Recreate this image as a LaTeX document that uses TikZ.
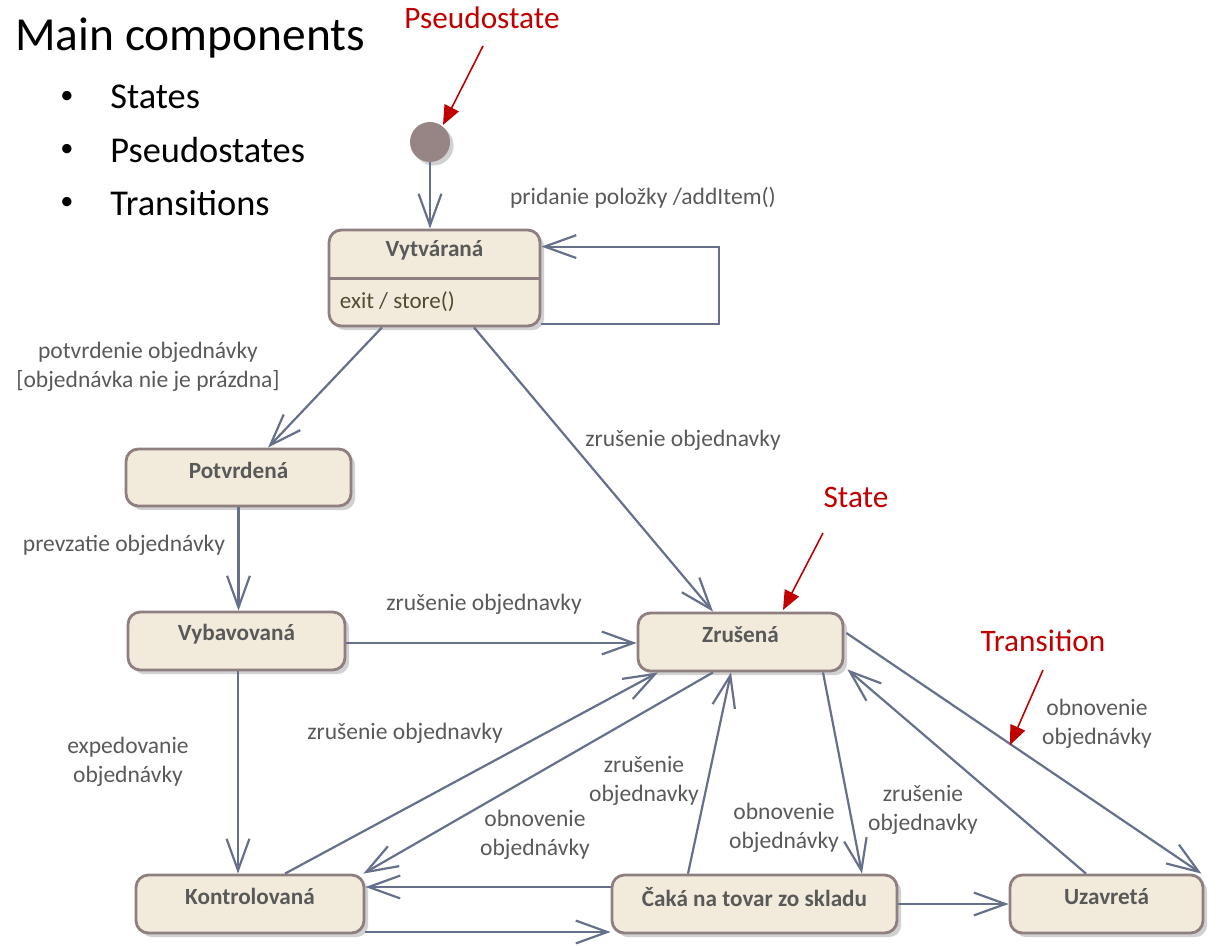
\documentclass[tikz,border=0pt]{standalone}
\usepackage{fontspec}
\setmainfont{Carlito}
\usetikzlibrary{arrows.meta,calc,shadows}

\definecolor{boxfill}{HTML}{F2EBDB}
\definecolor{boxline}{HTML}{8F7F80}
\definecolor{edgecol}{HTML}{66708B}
\definecolor{txtcol}{HTML}{595959}
\definecolor{notecol}{HTML}{C00000}
\definecolor{initcol}{HTML}{978484}
\definecolor{actcol}{HTML}{4D4D30}

\tikzset{
  statebox/.style={draw=boxline, fill=boxfill, line width=1.6pt, rounded corners=7pt,
    inner sep=0pt, minimum height=1.16cm,
    drop shadow={shadow xshift=2.4pt, shadow yshift=-2.4pt, opacity=0.3, fill=black!60}},
  titletext/.style={font=\fontsize{13.2}{15}\selectfont\bfseries, text=txtcol, inner sep=0pt},
  lbl/.style={font=\fontsize{13.4}{16.5}\selectfont, text=txtcol, align=center, inner sep=0pt},
  edge/.style={draw=edgecol, line width=1.25pt, -{Straight Barb[length=18pt,width=13pt]}},
  note/.style={font=\fontsize{17.8}{20}\selectfont, text=notecol, inner sep=0pt},
  notearrow/.style={draw=notecol, line width=0.9pt, -{Triangle[length=11pt,width=9pt]}},
  bullettext/.style={font=\fontsize{20.7}{24}\selectfont, anchor=west, inner sep=0pt},
  bulletmark/.style={font=\fontsize{15}{18}\selectfont, inner sep=0pt},
}

\begin{document}
\begin{tikzpicture}[x=0.02cm, y=-0.02cm]
  \useasboundingbox (0,0) rectangle (1220,946);

  % heading and bullet list
  \node[font=\fontsize{27}{32}\selectfont, anchor=west, inner sep=0pt] (head) at (15,38) {Main components};
  \node[bulletmark] (b1m) at (67,97) {•};
  \node[bullettext] (b1) at (110,97) {States};
  \node[bulletmark] (b2m) at (67,150) {•};
  \node[bullettext] (b2) at (110,150) {Pseudostates};
  \node[bulletmark] (b3m) at (67,203) {•};
  \node[bullettext] (b3) at (110,203) {Transitions};

  % initial pseudostate
  \node[circle, fill=initcol, minimum size=0.8cm, inner sep=0pt,
        drop shadow={shadow xshift=2pt, shadow yshift=-2pt, opacity=0.3, fill=black!60}] (init) at (430,142) {};

  % states
  \node[statebox, minimum width=4.22cm, minimum height=1.92cm] (vyt) at (434.5,278) {};
  \draw[boxline, line width=1.3pt] ($(vyt.north west)+(0,50)$) -- ($(vyt.north east)+(0,50)$);
  \node[titletext] (vytT) at ($(vyt.north)+(0,22)$) {Vytváraná};
  \node[font=\fontsize{13.1}{15}\selectfont, text=actcol, anchor=west, inner sep=0pt] (vytA)
        at ($(vyt.north west)+(12,73)$) {exit / store()};

  \node[statebox, minimum width=4.5cm, minimum height=1.14cm] (pot) at (238.5,477.5) {};
  \node[titletext] (potT) at ($(pot.north)+(0,23)$) {Potvrdená};

  \node[statebox, minimum width=4.34cm] (vyb) at (236.5,641) {};
  \node[titletext] (vybT) at ($(vyb.north)+(0,24)$) {Vybavovaná};

  \node[statebox, minimum width=4.1cm] (zru) at (740.5,642) {};
  \node[titletext] (zruT) at ($(zru.north)+(0,23)$) {Zrušená};

  \node[statebox, minimum width=4.56cm] (kon) at (250,904) {};
  \node[titletext] (konT) at ($(kon.north)+(0,23)$) {Kontrolovaná};

  \node[statebox, minimum width=5.7cm] (cak) at (754.5,904) {};
  \node[titletext] (cakT) at ($(cak.north)+(0,23)$) {Čaká na tovar zo skladu};

  \node[statebox, minimum width=3.86cm] (uza) at (1106.5,904) {};
  \node[titletext] (uzaT) at ($(uza.north)+(0,23)$) {Uzavretá};

  % transitions
  \draw[edge] (init) -- (init |- vyt.north);
  \draw[edge] ($(vyt.south east)+(0,-3)$) -- ++(178,0) |- ($(vyt.north east)+(0,18)$);
  \draw[edge] ($(vyt.south)+(-52.5,0)$) -- ($(pot.north)+(29.5,0)$);
  \draw[edge] ($(vyt.south)+(39.5,0)$) -- ($(zru.north)+(-27.5,0)$);
  \draw[edge] (pot.south) -- (pot.south |- vyb.north);
  \draw[edge] ($(vyb.east)+(0,2)$) -- ($(vyb.east -| zru.west)+(0,2)$);
  \draw[edge] ($(vyb.south)+(1.5,0)$) -- ($(vyb.south |- kon.north)+(1.5,0)$);
  \draw[edge] ($(kon.north)+(35,0)$) -- ($(zru.south)+(-82.5,0)$);
  \draw[edge] ($(zru.south)+(-27.5,0)$) -- ($(kon.north east)+(-2,0)$);
  \draw[edge] ($(cak.west)+(0,-17)$) -- ($(kon.east)+(0,-17)$);
  \draw[edge] ($(kon.east)+(0,28)$) -- ($(cak.west)+(0,28)$);
  \draw[edge] ($(cak.north)+(-66.5,0)$) -- ($(zru.south)+(-9.5,0)$);
  \draw[edge] ($(zru.south)+(82.5,0)$) -- ($(cak.north)+(107.5,0)$);
  \draw[edge] (cak.east) -- (uza.west);
  \draw[edge] ($(uza.north)+(-20.5,0)$) -- ($(zru.south east)+(3,-3)$);
  \draw[edge] ($(zru.east)+(2,-9)$) -- ($(uza.north east)+(-3,0)$);

  % transition labels
  \node[lbl] (l1) at (643,198) {pridanie položky /addItem()};
  \node[lbl] (l2) at (148,367) {potvrdenie objednávky\\{[}objednávka nie je prázdna{]}};
  \node[lbl] (l3) at (683,440) {zrušenie objednavky};
  \node[lbl] (l4) at (124,545) {prevzatie objednávky};
  \node[lbl] (l5) at (484,604) {zrušenie objednavky};
  \node[lbl] (l6) at (128,762) {expedovanie\\objednávky};
  \node[lbl] (l7) at (405,733) {zrušenie objednavky};
  \node[lbl] (l8) at (644,781) {zrušenie\\objednavky};
  \node[lbl] (l9) at (535,835) {obnovenie\\objednávky};
  \node[lbl] (l10) at (784,828) {obnovenie\\objednávky};
  \node[lbl] (l11) at (923,810) {zrušenie\\objednavky};
  \node[lbl] (l12) at (1097,724) {obnovenie\\objednávky};

  % annotations
  \node[note] (nPs) at (482,18) {Pseudostate};
  \coordinate (nPsA) at (483,46);
  \coordinate (nPsB) at (443,125);
  \draw[notearrow] (nPsA) -- (nPsB);

  \node[note] (nSt) at (856,497) {State};
  \coordinate (nStA) at (823,533);
  \coordinate (nStB) at (783,610);
  \draw[notearrow] (nStA) -- (nStB);

  \node[note] (nTr) at (1043,641) {Transition};
  \coordinate (nTrA) at (1043,670);
  \coordinate (nTrB) at (1010,745);
  \draw[notearrow] (nTrA) -- (nTrB);
\end{tikzpicture}
\end{document}
